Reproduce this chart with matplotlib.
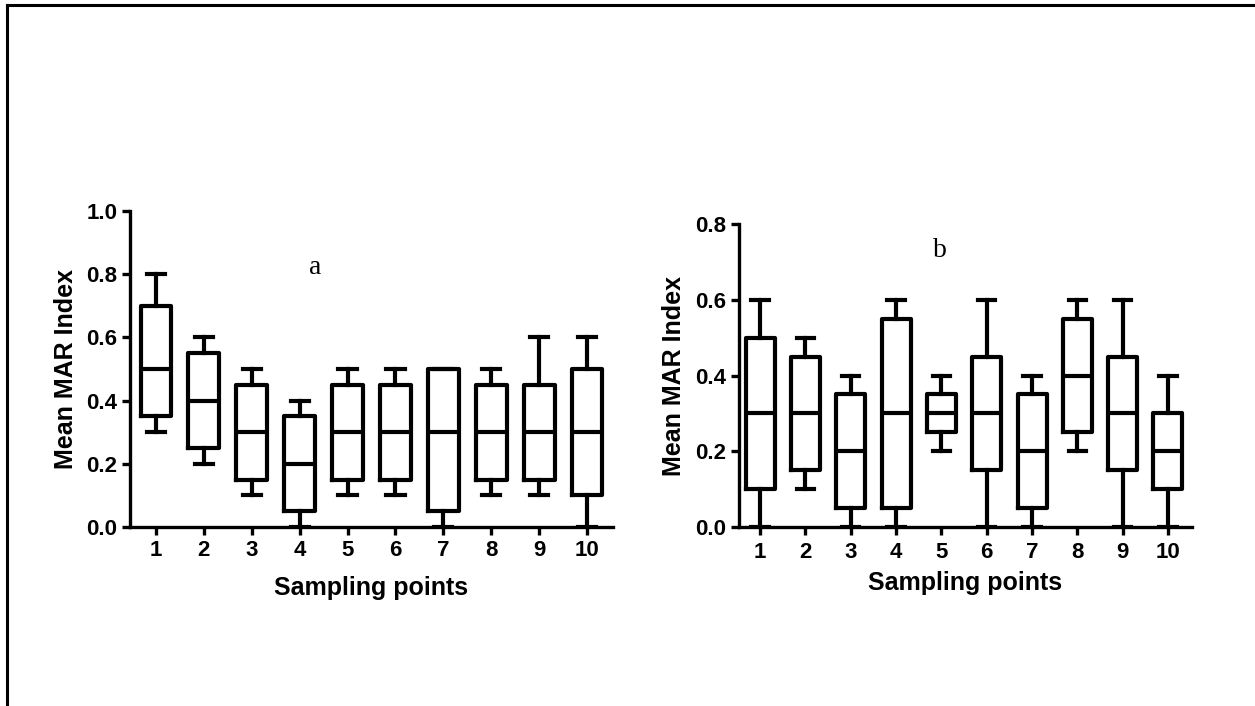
import matplotlib
matplotlib.use("Agg")
import matplotlib.pyplot as plt
from matplotlib.lines import Line2D

# ---- data ----
points = [1, 2, 3, 4, 5, 6, 7, 8, 9, 10]

a_low = [0.30, 0.20, 0.10, 0.00, 0.10, 0.10, 0.00, 0.10, 0.10, 0.00]
a_q1 = [0.35, 0.25, 0.15, 0.05, 0.15, 0.15, 0.05, 0.15, 0.15, 0.10]
a_med = [0.50, 0.40, 0.30, 0.20, 0.30, 0.30, 0.30, 0.30, 0.30, 0.30]
a_q3 = [0.70, 0.55, 0.45, 0.35, 0.45, 0.45, 0.50, 0.45, 0.45, 0.50]
a_high = [0.80, 0.60, 0.50, 0.40, 0.50, 0.50, 0.50, 0.50, 0.60, 0.60]

b_low = [0.00, 0.10, 0.00, 0.00, 0.20, 0.00, 0.00, 0.20, 0.00, 0.00]
b_q1 = [0.10, 0.15, 0.05, 0.05, 0.25, 0.15, 0.05, 0.25, 0.15, 0.10]
b_med = [0.30, 0.30, 0.20, 0.30, 0.30, 0.30, 0.20, 0.40, 0.30, 0.20]
b_q3 = [0.50, 0.45, 0.35, 0.55, 0.35, 0.45, 0.35, 0.55, 0.45, 0.30]
b_high = [0.60, 0.50, 0.40, 0.60, 0.40, 0.60, 0.40, 0.60, 0.60, 0.40]

a_yticks = [0.0, 0.2, 0.4, 0.6, 0.8, 1.0]
b_yticks = [0.0, 0.2, 0.4, 0.6, 0.8]

SANS = "Liberation Sans"
SERIF = "Liberation Serif"
LW = 3.0

fig = plt.figure(figsize=(12.55, 7.06), dpi=100)

# outer frame (top and left edges visible)
fig.add_artist(Line2D([7/1255, 1.0], [1 - 5/706, 1 - 5/706], transform=fig.transFigure,
                      color="black", lw=2.2))
fig.add_artist(Line2D([7/1255, 7/1255], [0.0, 1 - 5/706], transform=fig.transFigure,
                      color="black", lw=2.2))


def stats(low, q1, med, q3, high):
    return [dict(whislo=l, q1=a, med=m, q3=b, whishi=h, fliers=[])
            for l, a, m, b, h in zip(low, q1, med, q3, high)]


def panel(rect, st, yticks, ymax, xlim, letter, letter_xy, xpad):
    ax = fig.add_axes(rect)
    ax.bxp(st, positions=points, widths=0.64, capwidths=0.38, showfliers=False,
           boxprops=dict(lw=LW, color="black"),
           whiskerprops=dict(lw=LW, color="black"),
           capprops=dict(lw=LW, color="black"),
           medianprops=dict(lw=LW, color="black"))
    ax.set_xlim(*xlim)
    ax.set_ylim(0, ymax)
    ax.set_yticks(yticks)
    ax.set_yticklabels([f"{v:.1f}" for v in yticks])
    ax.set_xticks(points)
    ax.set_xticklabels([str(p) for p in points])
    for s in ("top", "right"):
        ax.spines[s].set_visible(False)
    for s in ("left", "bottom"):
        ax.spines[s].set_linewidth(2.4)
    ax.tick_params(direction="out", length=6, width=2.4, pad=3)
    ax.tick_params(axis="x", pad=xpad)
    for lab in ax.get_xticklabels() + ax.get_yticklabels():
        lab.set_fontfamily(SANS)
        lab.set_fontweight("bold")
        lab.set_fontsize(16)
    ax.set_ylabel("Mean MAR Index", fontfamily=SANS, fontweight="bold", fontsize=18)
    ax.set_xlabel("Sampling points", fontfamily=SANS, fontweight="bold", fontsize=18)
    ax.text(letter_xy[0], letter_xy[1], letter, fontfamily=SERIF, fontsize=20,
            ha="center", va="center")
    return ax


ax_a = panel([130/1255, 1 - 527/706, 483/1255, 316/706], stats(a_low, a_q1, a_med, a_q3, a_high),
             a_yticks, 1.0, (0.46, 10.54), "a", (4.32, 0.82), 3)
ax_a.yaxis.set_label_coords(-52/483, 0.5)
ax_a.xaxis.set_label_coords(0.5, -49/316)

ax_b = panel([739/1255, 1 - 527/706, 453/1255, 303/706], stats(b_low, b_q1, b_med, b_q3, b_high),
             b_yticks, 0.8, (0.535, 10.53), "b", (4.96, 0.73), 5)
ax_b.yaxis.set_label_coords(-53/453, 0.5)
ax_b.xaxis.set_label_coords(0.5, -44/303)

fig.savefig("out.png", dpi=100, facecolor="white")
